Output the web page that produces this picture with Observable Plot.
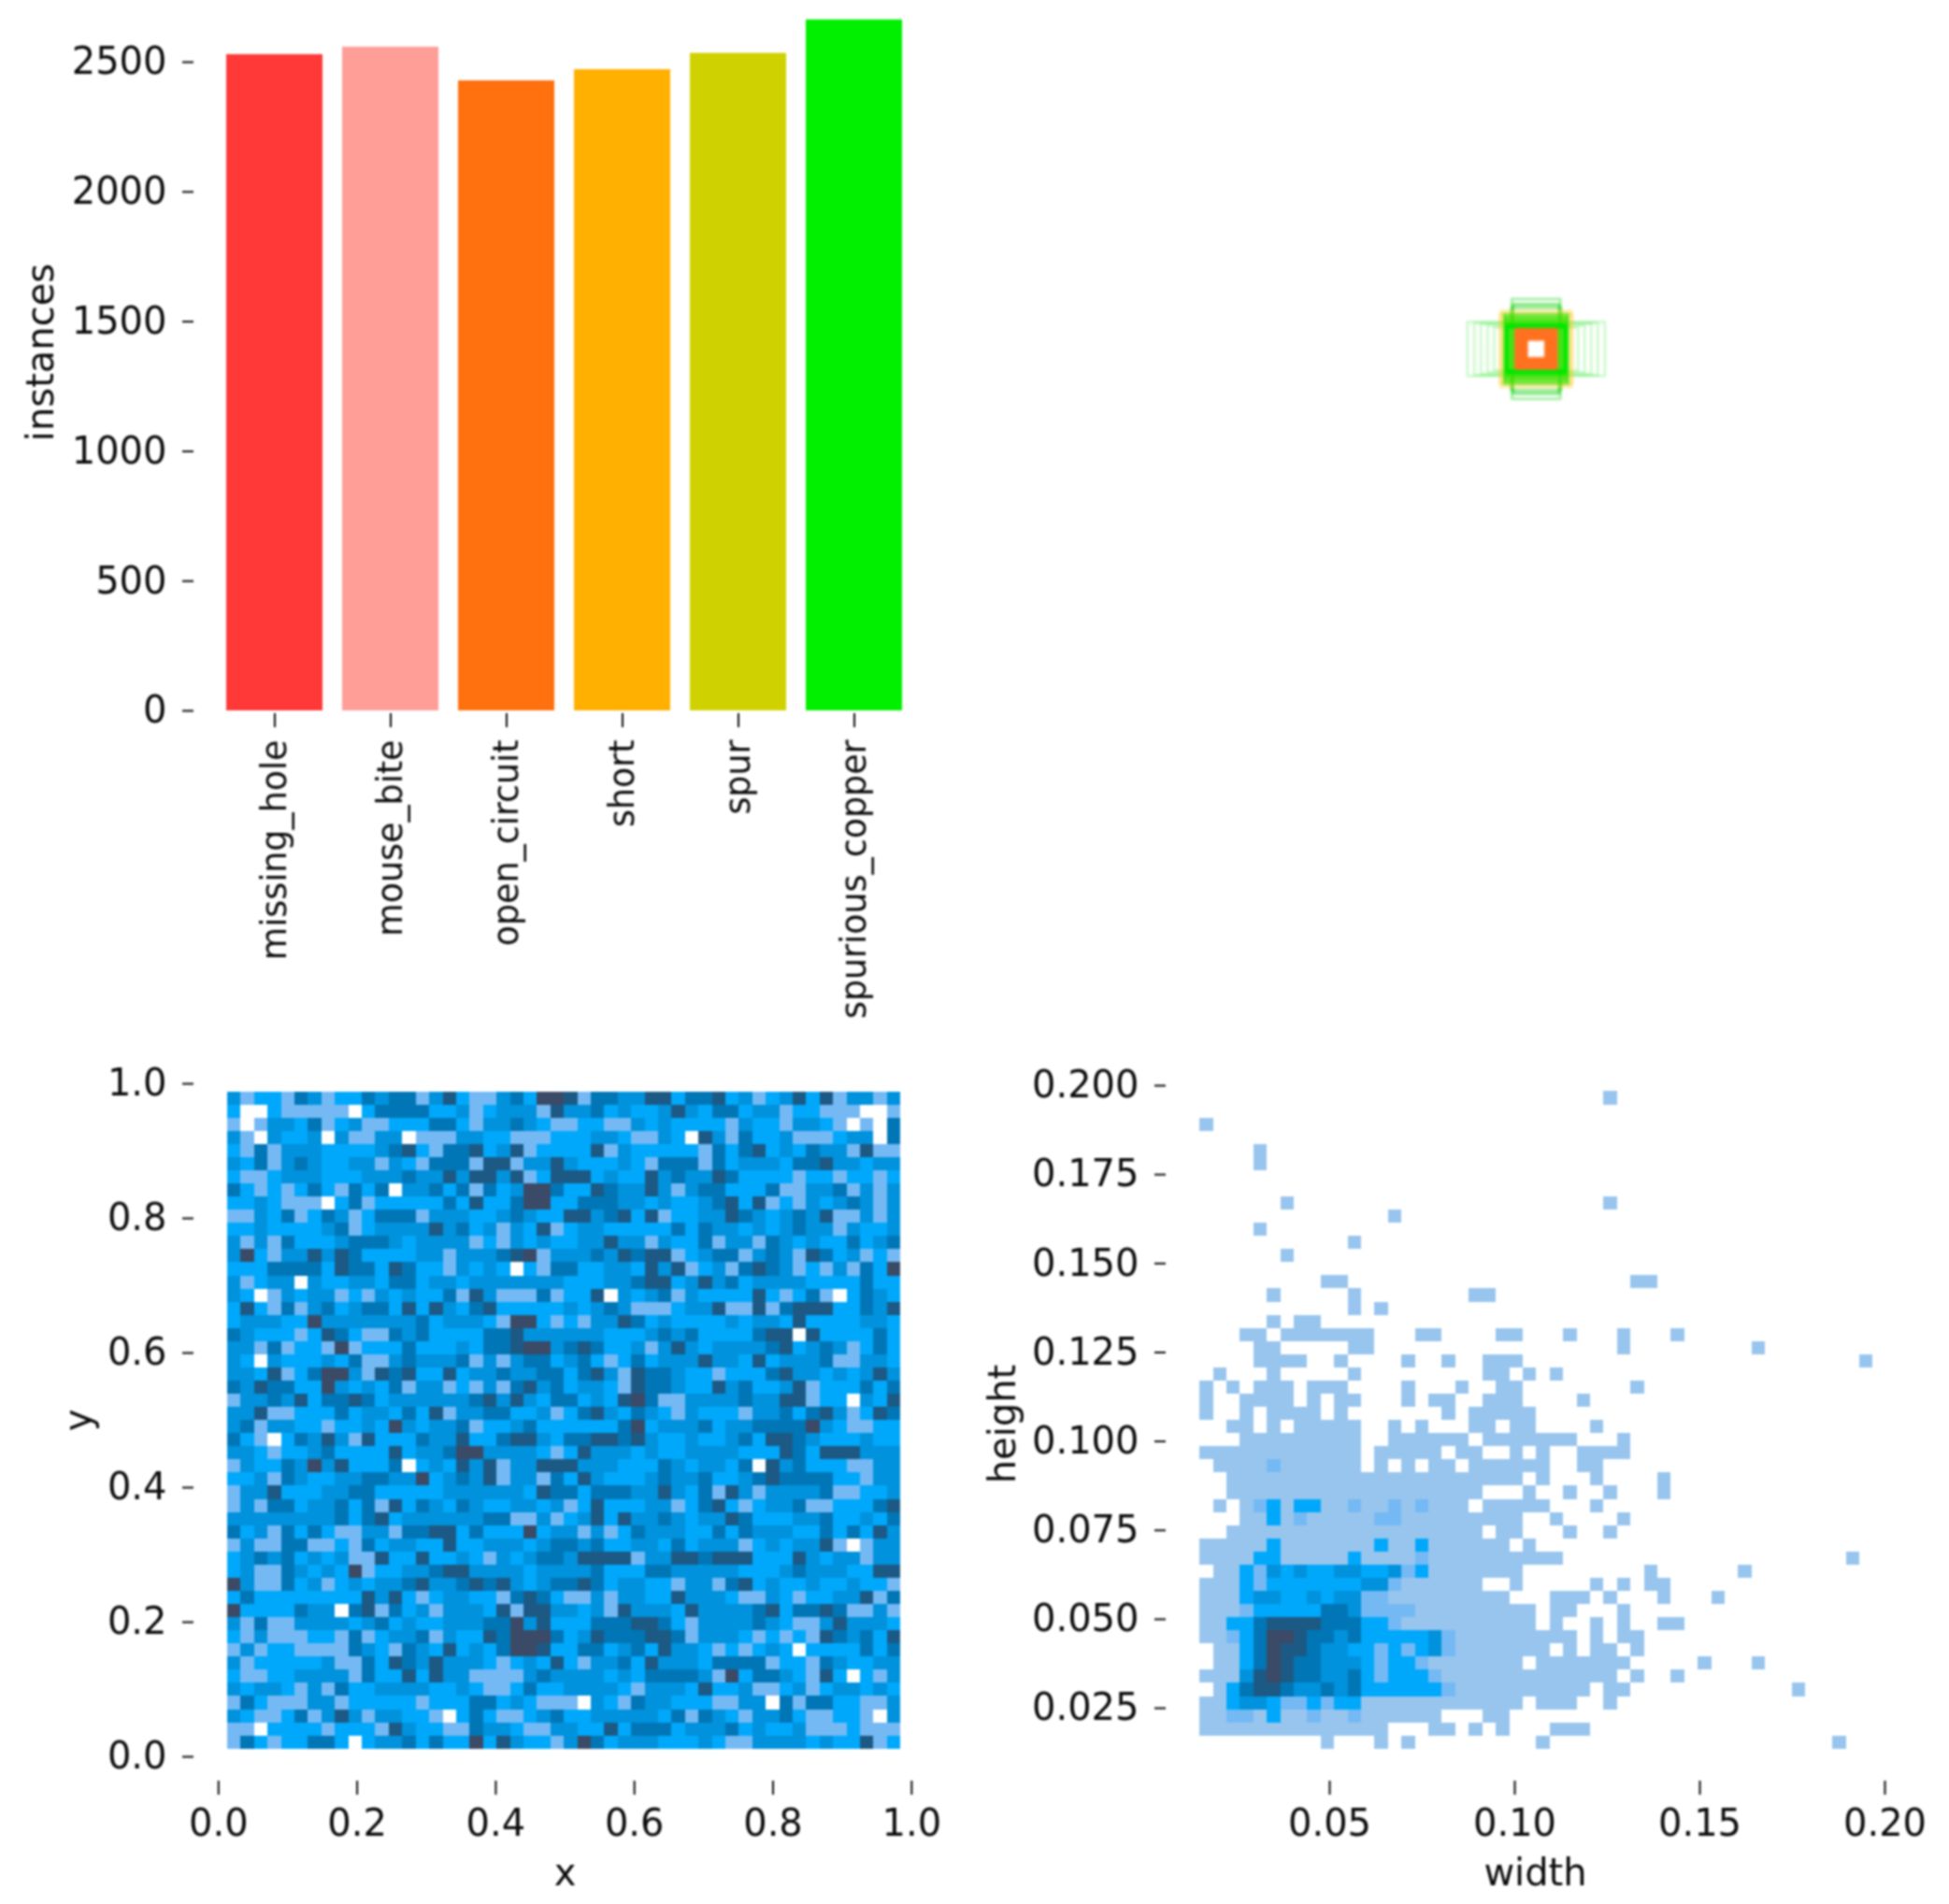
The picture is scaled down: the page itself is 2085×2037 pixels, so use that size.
<!DOCTYPE html>
<html>
<head>
<meta charset="utf-8">
<script src="https://cdn.jsdelivr.net/npm/d3@7"></script>
<script src="https://cdn.jsdelivr.net/npm/@observablehq/plot@0.6"></script>
<style>
html,body{margin:0;padding:0;background:#fff}
#fig{display:grid;grid-template-columns:1042px 1043px;grid-template-rows:1130px 907px;width:2085px;height:2037px}
#fig svg{display:block;max-width:none;filter:blur(.8px)}
#fig svg:nth-child(2){filter:blur(1.6px)}
</style>
</head>
<body>
<div id="fig"></div>
<script>
const classNames = ["missing_hole","mouse_bite","open_circuit","short","spur","spurious_copper"];
const classCounts = [2529,2558,2428,2471,2534,2663];
const classColors = ["#ff3838","#ff9d97","#ff700f","#ffb000","#cfd200","#00f000"];
const countTicks = [0,500,1000,1500,2000,2500];
const unitTicks = [0,0.2,0.4,0.6,0.8,1];
const widthTicks = [0.05,0.10,0.15,0.20];
const heightTicks = [0.025,0.05,0.075,0.1,0.125,0.15,0.175,0.2];
const levels = ["1","2","3","4","5","6","7"];
const levelColors = ["#98c5ee","#74b9f4","#00a8fb","#0092dc","#0076b6","#1c5a85","#3b4a66"];

// heat map of box centres: top row first, 0 = empty bin
const xyRows = [
"4233254233 5455246322 4537762554 4663556342 3463624424",
"3003222220 3555533423 4442644534 3346435534 4233222002",
"2024435234 2233355324 4543223322 4343333243 3244320205",
"4204334042 2440222443 3222333443 2243064253 3422234405",
"3252444333 3456325563 4623333624 3333325356 3435442622",
"4352454334 4243255526 6244643334 3255525344 4355644344",
"3223444333 4445446466 4623666343 3645446533 3323323323",
"5323235325 3504453525 3477533654 4642455333 5224452424",
"3343222035 2333335363 3577335554 4343345636 2324345424",
"2243523542 3555244433 4543366456 3623344654 3454622424",
"3343333452 3444464534 2436234433 3335354434 3454424334",
"4242533345 5543444423 2434334464 4243352442 5434335345",
"4732446465 3333442444 5672444546 5662345524 5426534232",
"3335555365 5365332434 3032553344 3646234256 5423242537",
"4234404334 4355344344 4444433344 5663464534 4443333533",
"4302434423 2434335264 2225233604 3452433336 3235203543",
"3632524534 5536364356 3333343454 2223446226 2566633546",
"3444337444 4444534443 2773232446 5343333434 4363333443",
"5433323653 2254533335 5644444433 3454533335 6606333353",
"4425233272 3335333435 5677456533 4246434444 5634542353",
"4304333435 2245444524 2455345323 5344464436 3444522443",
"4436235774 2656336344 5445535642 6554332333 5644343464",
"5465533743 4352442324 2564534432 6554336453 3462333535",
"2445463556 5344444456 4643553436 7522444454 4662330436",
"4462233353 4435362445 5334235643 5432433324 4535642365",
"4524433233 4374344523 3453333335 7344453445 5557432233",
"5320354642 6333544633 5664355665 6433433453 6654333433",
"4432334533 3363445774 4443236444 3433444433 3653666444",
"2433547463 3350343646 2446664443 3354344350 6453332244",
"3342543344 5544734546 2442536433 3454453345 6555533244",
"2446333445 5333334444 4436553555 4464352642 4444522334",
"2425534453 5263543543 3443423633 3442356323 4452233356",
"4444444453 5634444445 5224234636 4454344653 3344533435",
"5342535322 4425566353 3373442423 5444335354 4433535364",
"2422552232 5344336334 4434554533 4435344423 4344620244",
"3454534342 2633633432 4345546666 2446656663 3364344244",
"3422543437 2334456644 4434444533 3554444433 3454443366",
"7422534234 3445644565 6434556534 4332442563 4334334332",
"3533333333 6463234433 2565322424 4336444322 4323344625",
"7333354405 6253424443 6266443426 4443644445 6355652242",
"4252244443 4534334445 5746333555 6653244445 4322464443",
"3242223325 2344524336 5777534655 5665244432 3232654536",
"2423322225 4325436343 5776335534 5364432323 4303333535",
"4233333422 5365464443 2343632445 3644435555 2332543344",
"3223344442 5336364422 2245444434 3555542735 5432630324",
"4344324253 3444433432 2353344443 2444363342 2342344343",
"2532224423 3333233355 3432220432 5443332244 0525533224",
"4322352464 2443320353 2234533444 4435254324 4532233204",
"2203333233 3264332254 4322443363 5553444534 3342223222",
"2532335530 3445353373 6433247534 4433343224 4443433623"
];
const xyXEdges = [0.0131, 0.9845];
const xyYEdges = [0.0115, 0.988];

// heat map of box sizes: top row first, 0 = empty bin
const whRows = [
"0000000000 0000000000 0000000000 1000000000 0000000000",
"0000000000 0000000000 0000000000 0000000000 0000000000",
"1000000000 0000000000 0000000000 0000000000 0000000000",
"0000000000 0000000000 0000000000 0000000000 0000000000",
"0000100000 0000000000 0000000000 0000000000 0000000000",
"0000100000 0000000000 0000000000 0000000000 0000000000",
"0000000000 0000000000 0000000000 0000000000 0000000000",
"0000000000 0000000000 0000000000 0000000000 0000000000",
"0000001000 0000000000 0000000000 1000000000 0000000000",
"0000000000 0000100000 0000000000 0000000000 0000000000",
"0000100000 0000000000 0000000000 0000000000 0000000000",
"0000000000 0100000000 0000000000 0000000000 0000000000",
"0000001000 0000000000 0000000000 0000000000 0000000000",
"0000000000 0000000000 0000000000 0000000000 0000000000",
"0000000001 1000000000 0000000000 0011000000 0000000000",
"0000010000 0100000000 1100000000 0000000000 0000000000",
"0000000000 0101000000 0000000000 0000000000 0000000000",
"0000010110 0000000000 0000000000 0000000000 0000000000",
"0001101111 1110001100 0011000100 0100010000 0000000000",
"0000110000 0110000000 0000000000 0100000000 0100000000",
"0000111100 1000010010 0111000000 0000000000 0000000001",
"0100010000 0100000000 0110101000 0000000000 0000000000",
"1010111011 1000010001 0011000000 0010000000 0000000000",
"1001111010 1100010110 0111000010 0000000000 0000000000",
"1001011110 1000000010 1111100000 0000000000 0000000000",
"0011010111 1100101000 1101100001 0000000000 0000000000",
"0001111111 1100111111 0111111100 0100000000 0000000000",
"1111111111 1101111101 1001010011 1100000000 0000000000",
"0111121111 1101010110 1111110011 0000000000 0000000000",
"0011111111 1111111111 1111010001 0000100000 0000000000",
"0011111111 1111111111 1000100100 1000100000 0000000000",
"0101231331 1211212111 0111110001 0000000000 0000000000",
"0001131211 1112211111 1111001000 0100000000 0000000000",
"0011111111 1111111111 1011000100 1000000000 0000000000",
"1111131111 1113113111 1110100000 0000000000 0000000000",
"1111331111 1311112111 1111111000 0000000000 0000000010",
"0113243433 4433423111 1111000000 0001000000 1000000000",
"1113233333 3344211111 1001000001 0101100000 0000000000",
"1113443343 4422111111 1110001110 1000100010 0000000000",
"1112333335 5422221111 1111101100 0100000000 0000000000",
"1133566665 5533211111 1111101001 0100110000 0000000000",
"1123577655 4533333421 1111111101 0110000000 0000000000",
"0113576654 4332323421 1111110101 1010000000 0000000000",
"0113576554 4432332111 1111011111 1100000100 0100000000",
"1114676554 4532333211 1111111111 1010010000 0000000000",
"0135665445 4533333321 1111111110 1100000000 0000100000",
"1134432232 3311111111 1111011100 1000000000 0000000000",
"1122131121 1211111100 0110000000 0000000000 0000000000",
"1111111111 1111000110 1010001110 0000000000 0000000000",
"0000000001 0001010000 0000010000 0000000000 0000000100"
];
const whXEdges = [0.01497, 0.1968];
const whYEdges = [0.0135, 0.1983];

// anchor outlines centred in the image: [width, height]
const wideBoxes = [[0.198,0.078],[0.178,0.075],[0.159,0.073],[0.14,0.067],[0.121,0.062]];
const tallBoxes = [[0.07,0.144],[0.066,0.13],[0.072,0.118],[0.068,0.125]];
const yellowBoxes = [[0.102,0.11],[0.098,0.104],[0.105,0.1]];
const greenBoxes = [[0.092,0.1],[0.09,0.094],[0.088,0.09],[0.086,0.086],[0.082,0.082],[0.079,0.08],[0.075,0.076],[0.071,0.072],[0.067,0.068],[0.063,0.064]];
const cornerBoxes = [[0.086,0.066],[0.082,0.07],[0.084,0.062]];
const orangeBoxes = [[0.058,0.056],[0.052,0.052],[0.046,0.046],[0.04,0.04],[0.034,0.034],[0.028,0.028]];

const font = {fontFamily:"'DejaVu Sans',sans-serif",fontSize:"40px",color:"#0c0c0c",background:"transparent"};
const fig = document.getElementById("fig");

function binned(rows, xEdges, yEdges){
  const out = [];
  const parsed = rows.map(r => r.replace(/ /g,""));
  const ny = parsed.length;
  parsed.forEach((row,r) => {
    const nx = row.length;
    const dx = (xEdges[1]-xEdges[0])/nx, dy = (yEdges[1]-yEdges[0])/ny;
    [...row].forEach((ch,c) => {
      if (ch === "0") return;
      out.push({level:ch,
        x1:xEdges[0]+c*dx, x2:xEdges[0]+(c+1)*dx,
        y2:yEdges[1]-r*dy, y1:yEdges[1]-(r+1)*dy});
    });
  });
  return out;
}
const levelScale = {type:"ordinal",domain:levels,range:levelColors};

// bars
fig.append(Plot.plot({
  width:1042,height:1130,marginLeft:207,marginRight:54,marginTop:-10,marginBottom:367,
  style:font,
  x:{type:"band",domain:classNames,range:[219.5,988],padding:0.17},
  y:{domain:[0,2700],range:[760,10.5]},
  color:{type:"ordinal",domain:classNames,range:classColors},
  marks:[
    Plot.barY(classNames,{x:d=>d,y:(d,i)=>classCounts[i],fill:d=>d}),
    Plot.axisY({ticks:countTicks,tickFormat:d=>String(d),tickSize:12,tickPadding:17,strokeWidth:2,label:"instances",labelAnchor:"center",labelArrow:"none",labelOffset:179}),
    Plot.axisX({tickRotate:-90,tickSize:15,tickPadding:13,strokeWidth:2,fontSize:36.4,label:null})
  ]
}));

// anchors
const boxMark = (boxes,stroke,strokeOpacity,strokeWidth) => Plot.rect(boxes,{
  x1:d=>0.5-d[0]/2,x2:d=>0.5+d[0]/2,y1:d=>0.5-d[1]/2,y2:d=>0.5+d[1]/2,
  fill:"none",stroke,strokeOpacity,strokeWidth});
fig.append(Plot.plot({
  width:1043,height:1130,margin:0,axis:null,style:font,
  x:{domain:[0,1],range:[230.3,972.3]},
  y:{domain:[0,1],range:[744.3,2.3]},
  marks:[
    boxMark(wideBoxes,"#00e000",0.22,2.5),
    boxMark(tallBoxes,"#00d000",0.4,2.5),
    boxMark(yellowBoxes,"#ffc81d",0.35,2.5),
    boxMark(greenBoxes,"#40e000",0.65,2.6),
    boxMark(cornerBoxes,"#00e800",0.9,3),
    boxMark(orangeBoxes,"#ff701f",1,3.2)
  ]
}));

// x,y heat map
fig.append(Plot.plot({
  width:1042,height:907,marginLeft:207,marginRight:41,marginTop:3,marginBottom:132,
  style:font,
  x:{domain:[0,1],range:[233.3,974.8]},
  y:{domain:[0,1],range:[749,29]},
  color:levelScale,
  marks:[
    Plot.rect(binned(xyRows,xyXEdges,xyYEdges),{x1:"x1",x2:"x2",y1:"y1",y2:"y2",fill:"level",shapeRendering:"crispEdges"}),
    Plot.axisY({ticks:unitTicks,tickFormat:d=>d.toFixed(1),tickSize:12,tickPadding:17,strokeWidth:2,label:"y",labelAnchor:"center",labelArrow:"none",labelOffset:139}),
    Plot.axisX({ticks:unitTicks,tickFormat:d=>d.toFixed(1),tickSize:15,tickPadding:15,strokeWidth:2,label:"x",labelAnchor:"center",labelArrow:"none",labelOffset:111})
  ]
}));

// width,height heat map
fig.append(Plot.plot({
  width:1043,height:907,marginLeft:205,marginRight:48,marginTop:11,marginBottom:132,
  style:font,
  x:{domain:[0,0.2],range:[182,974]},
  y:{domain:[0,0.2],range:[792.2,31]},
  color:levelScale,
  marks:[
    Plot.rect(binned(whRows,whXEdges,whYEdges),{x1:"x1",x2:"x2",y1:"y1",y2:"y2",fill:"level",shapeRendering:"crispEdges"}),
    Plot.axisY({ticks:heightTicks,tickFormat:d=>d.toFixed(3),tickSize:12,tickPadding:17,strokeWidth:2,label:"height",labelAnchor:"center",labelArrow:"none",labelOffset:190}),
    Plot.axisX({ticks:widthTicks,tickFormat:d=>d.toFixed(2),tickSize:15,tickPadding:15,strokeWidth:2,label:"width",labelAnchor:"center",labelArrow:"none",labelOffset:111})
  ]
}));
</script>
</body>
</html>
